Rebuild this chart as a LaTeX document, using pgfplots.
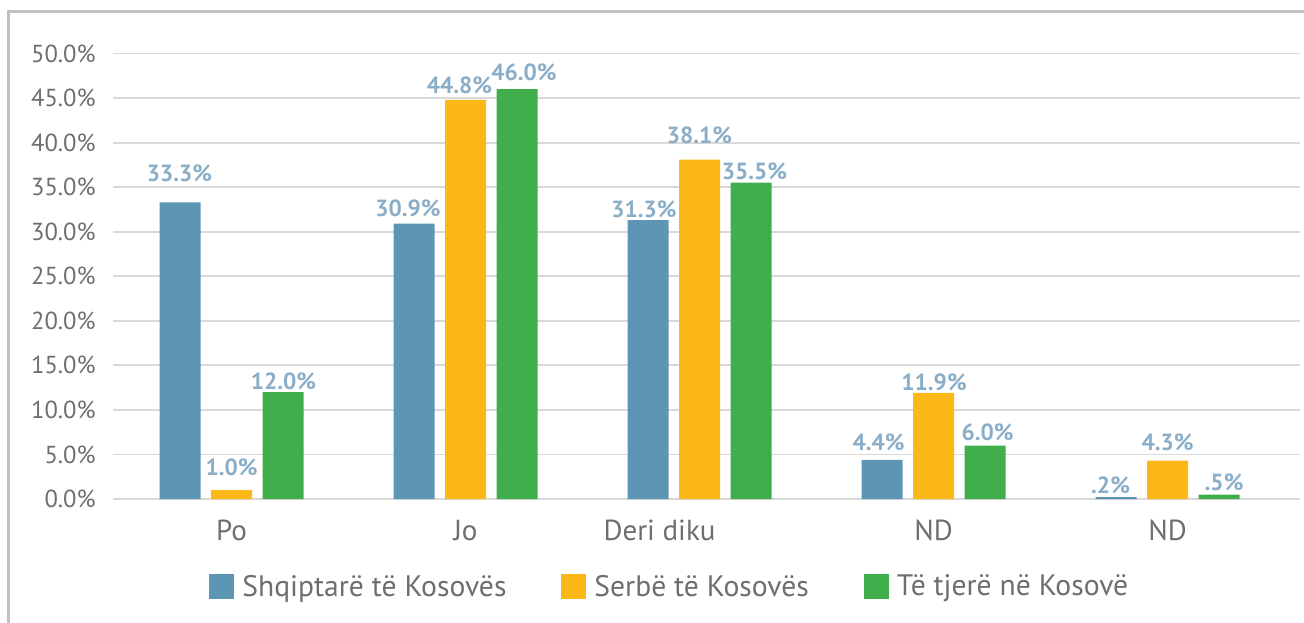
\documentclass[border=0pt]{standalone}
\usepackage{fontspec}
\setmainfont{PT Sans}
\usepackage{pgfplots}
\usepackage{pgfplotstable}
\pgfplotsset{compat=1.18}
\definecolor{cblue}{HTML}{5D96B4}
\definecolor{corange}{HTML}{FBB817}
\definecolor{cgreen}{HTML}{40AE4A}
\definecolor{clab}{HTML}{8AAEC8}
\definecolor{ctext}{HTML}{6D6E71}
\definecolor{cgrid}{HTML}{D9D9D9}
\definecolor{cframe}{HTML}{C0C0C6}

\pgfplotstableread{
x y lab dx dy
0 33.3 33.3 -0.25 14.25
1 30.9 30.9 -3 7.5
2 31.3 31.3 -2 5.25
3 4.4 4.4 -1.75 8.75
4 0.2 .2 -2.75 6
}\tblue
\pgfplotstableread{
x y lab dx dy
0 1.0 1.0 0 11.25
1 44.8 44.8 -3 7.25
2 38.1 38.1 0 12
3 11.9 11.9 0.25 5.25
4 4.3 4.3 0 9
}\torange
\pgfplotstableread{
x y lab dx dy
0 12.0 12.0 0.25 5.5
1 46.0 46.0 3.5 8.25
2 35.5 35.5 1.75 5.75
3 6.0 6.0 1.25 6.75
4 0.5 .5 2.5 6.25
}\tgreen

\begin{document}
\begin{tikzpicture}
\useasboundingbox (-56.5pt,-61.5pt) rectangle (595.5pt,249.5pt);
\draw[cframe, line width=1.5pt] (-52pt,-62pt) -- (-52pt,243.75pt) -- (596pt,243.75pt);
\begin{axis}[
  at={(0pt,0pt)}, anchor=south west,
  scale only axis, width=593.5pt, height=222.75pt,
  xmin=-0.5064, xmax=4.566, ymin=0, ymax=50,
  axis line style={draw=none},
  major tick length=0pt,
  ymajorgrids, grid style={cgrid, line width=0.9pt},
  ytick={0,5,10,15,20,25,30,35,40,45,50},
  yticklabels={0.0\%,5.0\%,10.0\%,15.0\%,20.0\%,25.0\%,30.0\%,35.0\%,40.0\%,45.0\%,50.0\%},
  xtick={0,1,2,3,4}, xticklabels={Po,Jo,{\hspace*{-40pt}Deri diku},ND,ND},
  yticklabel style={anchor=east, inner sep=0pt, xshift=-8.5pt, font=\fontsize{12.3}{14}\selectfont, text=ctext},
  xticklabel style={anchor=base, inner sep=0pt, yshift=-20.5pt, font=\fontsize{14.5}{16}\selectfont, text=ctext},
  ybar=5.25pt, bar width=20.5pt,
  point meta=explicit symbolic,
  nodes near coords={\pgfplotspointmeta\%},
  visualization depends on={\thisrow{dx} \as \dx},
  visualization depends on={\thisrow{dy} \as \dy},
  every node near coord/.append style={anchor=center, inner sep=0pt, xshift=\dx pt, yshift=\dy pt, font=\fontsize{11.7}{13}\selectfont\bfseries, text=clab},
  legend columns=3,
  legend style={at={(0.0809,-0.1975)}, anchor=west, draw=none, inner sep=0pt,
    nodes={inner sep=0pt, font=\fontsize{14.8}{16}\selectfont, text=ctext},
    /tikz/every odd column/.append style={column sep=4pt},
    /tikz/every even column/.append style={column sep=27.5pt}},
  legend image code/.code={\fill[#1, draw=none] (0pt,-6.25pt) rectangle (12.5pt,6.25pt);},
]
\addplot[fill=cblue, draw=none] table[x=x, y=y, meta=lab] {\tblue};
\addplot[fill=corange, draw=none] table[x=x, y=y, meta=lab] {\torange};
\addplot[fill=cgreen, draw=none] table[x=x, y=y, meta=lab] {\tgreen};
\legend{Shqiptarë të Kosovës, Serbë të Kosovës, Të tjerë në Kosovë}
\end{axis}
\end{tikzpicture}
\end{document}
